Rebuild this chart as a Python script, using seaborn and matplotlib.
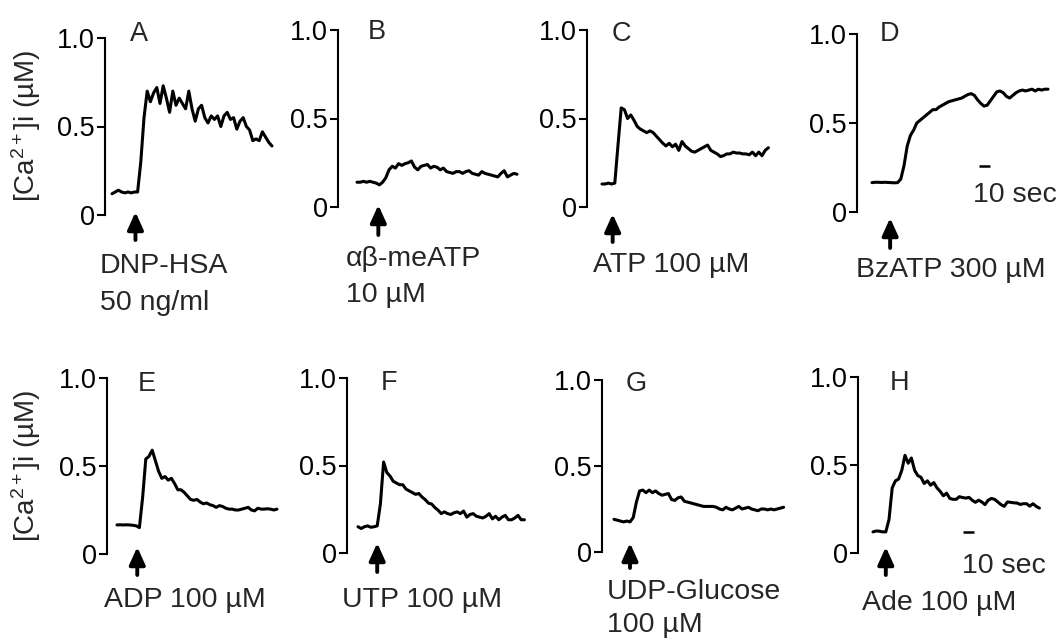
import matplotlib
matplotlib.use("Agg")
import matplotlib.pyplot as plt
import seaborn as sns
import numpy as np

# digitised [Ca2+]i traces (uM), one point every DT seconds
DT = 3.0
SCALE_BAR_S = 10

panels = ["A", "B", "C", "D", "E", "F", "G", "H"]
stimuli = [["DNP-HSA", "50 ng/ml"], ["αβ-meATP", "10 µM"], ["ATP 100 µM"], ["BzATP 300 µM"],
           ["ADP 100 µM"], ["UTP 100 µM"], ["UDP-Glucose", "100 µM"], ["Ade 100 µM"]]
stim_time = [22, 20, 10, 17, 19, 18, 15, 12]  # seconds after start of trace

ca_A = [0.12, 0.13, 0.14, 0.13, 0.125, 0.13, 0.125, 0.13, 0.13, 0.30,
        0.55, 0.70, 0.64, 0.69, 0.72, 0.63, 0.73, 0.66, 0.58, 0.70,
        0.62, 0.66, 0.63, 0.60, 0.70, 0.60, 0.53, 0.60, 0.62, 0.55,
        0.52, 0.56, 0.54, 0.56, 0.50, 0.56, 0.58, 0.54, 0.55, 0.485,
        0.53, 0.55, 0.50, 0.48, 0.42, 0.43, 0.42, 0.47, 0.44, 0.41, 0.39]
ca_B = [0.14, 0.14, 0.145, 0.14, 0.145, 0.14, 0.135, 0.125, 0.14, 0.165,
        0.21, 0.23, 0.22, 0.245, 0.235, 0.245, 0.25, 0.26, 0.225, 0.21,
        0.23, 0.235, 0.24, 0.22, 0.23, 0.225, 0.21, 0.22, 0.20, 0.195,
        0.19, 0.20, 0.20, 0.19, 0.20, 0.205, 0.19, 0.185, 0.18, 0.20,
        0.19, 0.185, 0.18, 0.175, 0.17, 0.19, 0.205, 0.17, 0.18, 0.19, 0.185]
ca_C = [0.13, 0.13, 0.135, 0.13, 0.135, 0.35, 0.56, 0.55, 0.50, 0.52,
        0.49, 0.455, 0.44, 0.43, 0.42, 0.43, 0.42, 0.40, 0.38, 0.36,
        0.345, 0.36, 0.34, 0.355, 0.32, 0.37, 0.345, 0.33, 0.315, 0.31,
        0.32, 0.33, 0.34, 0.35, 0.32, 0.31, 0.30, 0.285, 0.29, 0.30,
        0.30, 0.31, 0.305, 0.305, 0.30, 0.30, 0.295, 0.31, 0.29, 0.31,
        0.29, 0.32, 0.335]
ca_D = [0.165, 0.167, 0.167, 0.166, 0.167, 0.166, 0.165, 0.164, 0.165, 0.185,
        0.26, 0.37, 0.43, 0.46, 0.50, 0.515, 0.53, 0.545, 0.56, 0.575,
        0.575, 0.59, 0.60, 0.61, 0.62, 0.625, 0.63, 0.635, 0.64, 0.65,
        0.66, 0.665, 0.655, 0.63, 0.61, 0.595, 0.60, 0.625, 0.65, 0.675,
        0.68, 0.67, 0.65, 0.64, 0.655, 0.67, 0.68, 0.685, 0.68, 0.685,
        0.69, 0.68, 0.69, 0.685, 0.69, 0.69]
ca_E = [0.165, 0.166, 0.165, 0.166, 0.165, 0.163, 0.16, 0.15, 0.32, 0.54,
        0.555, 0.59, 0.53, 0.47, 0.43, 0.44, 0.42, 0.43, 0.40, 0.365,
        0.365, 0.35, 0.33, 0.31, 0.305, 0.31, 0.295, 0.285, 0.29, 0.28,
        0.275, 0.265, 0.275, 0.27, 0.26, 0.255, 0.255, 0.25, 0.25, 0.255,
        0.26, 0.265, 0.25, 0.245, 0.26, 0.255, 0.255, 0.257, 0.255, 0.25, 0.255]
ca_F = [0.15, 0.14, 0.15, 0.155, 0.147, 0.15, 0.155, 0.28, 0.52, 0.46,
        0.44, 0.41, 0.40, 0.39, 0.39, 0.365, 0.355, 0.345, 0.335, 0.34,
        0.32, 0.305, 0.285, 0.28, 0.26, 0.245, 0.225, 0.235, 0.225, 0.22,
        0.23, 0.235, 0.225, 0.24, 0.205, 0.22, 0.225, 0.21, 0.205, 0.20,
        0.21, 0.225, 0.195, 0.21, 0.19, 0.205, 0.215, 0.19, 0.19, 0.20,
        0.215, 0.19, 0.19]
ca_G = [0.19, 0.185, 0.18, 0.175, 0.18, 0.175, 0.20, 0.29, 0.355, 0.36,
        0.345, 0.36, 0.345, 0.355, 0.34, 0.33, 0.335, 0.34, 0.305, 0.30,
        0.315, 0.32, 0.295, 0.29, 0.285, 0.28, 0.275, 0.27, 0.265, 0.265,
        0.265, 0.265, 0.26, 0.25, 0.245, 0.26, 0.25, 0.245, 0.255, 0.265,
        0.25, 0.255, 0.26, 0.25, 0.245, 0.24, 0.25, 0.25, 0.245, 0.25,
        0.245, 0.25, 0.255, 0.26]
ca_H = [0.12, 0.125, 0.124, 0.12, 0.12, 0.19, 0.37, 0.41, 0.42, 0.47,
        0.555, 0.51, 0.54, 0.47, 0.44, 0.43, 0.395, 0.41, 0.385, 0.40,
        0.37, 0.35, 0.325, 0.34, 0.31, 0.305, 0.305, 0.32, 0.315, 0.312,
        0.316, 0.30, 0.288, 0.30, 0.29, 0.275, 0.30, 0.31, 0.305, 0.29,
        0.275, 0.265, 0.29, 0.288, 0.285, 0.284, 0.276, 0.28, 0.28, 0.266,
        0.28, 0.265, 0.255]
traces = [ca_A, ca_B, ca_C, ca_D, ca_E, ca_F, ca_G, ca_H]

# ---- layout (pixels in a 1061 x 639 canvas) ----
W, H = 1061, 639
PX_PER_S = 3.2 / DT
AX_W = 200
# spine x, y of 1.0, y of 0, first point x
axes_px = [(105, 38, 215, 112), (338, 30, 207, 357), (587, 30, 207, 602), (857, 34, 212, 872),
           (107, 378, 554, 117), (347, 378, 553, 358), (602, 380, 552, 614), (858, 377, 553, 873)]
arrow_px = [(212, 240), (205, 235), (214, 242), (218, 248),
            (547, 575), (543, 572), (543, 568), (547, 575)]
letter_px = [(139, 34), (377, 32), (621, 34), (889, 34), (147, 384), (389, 383), (636, 384), (900, 383)]
label_px = [(100, 273), (346, 266), (593, 272), (856, 277), (104, 607), (342, 607), (607, 599), (862, 610)]
line_gap = [37, 36, 0, 0, 0, 0, 33, 0]
scalebar_px = {3: (979, 166, 973, 202), 7: (963, 532, 962, 573)}


def fx(px):
    return px / W


def fy(py):
    return 1 - py / H


sns.set_style("ticks")
plt.rcParams["font.family"] = ["Liberation Sans", "DejaVu Sans"]
plt.rcParams["mathtext.fontset"] = "custom"
plt.rcParams["mathtext.rm"] = "Liberation Sans"
plt.rcParams["mathtext.it"] = "Liberation Sans:italic"

fig = plt.figure(figsize=(W / 100, H / 100), dpi=100)

for k, vals in enumerate(traces):
    sx, top, bot, tx0 = axes_px[k]
    ax = fig.add_axes([fx(sx), fy(bot), AX_W / W, (bot - top) / H])
    t0 = (tx0 - sx) / PX_PER_S
    t = t0 + DT * np.arange(len(vals))
    sns.lineplot(x=t, y=vals, ax=ax, color="black", linewidth=2.2, estimator=None, sort=False)
    ax.set_xlim(0, AX_W / PX_PER_S)
    ax.set_ylim(0, 1)
    ax.set_yticks([0, 0.5, 1.0])
    ax.set_yticklabels(["0", "0.5", "1.0"])
    ax.set_xticks([])
    ax.set_xlabel("")
    ax.set_ylabel("")
    ax.tick_params(axis="y", length=6, width=1.5, pad=1.5, labelsize=19.5, colors="black")
    sns.despine(ax=ax, bottom=True)
    ax.spines["left"].set_linewidth(1.5)
    ax.spines["left"].set_color("black")
    ax.patch.set_alpha(0)

    # stimulus arrow
    ts = t0 + stim_time[k]
    ya, yb = arrow_px[k]
    span = bot - top
    ax.annotate("", xy=(ts, (bot - ya) / span), xytext=(ts, (bot - yb) / span),
                arrowprops=dict(arrowstyle="-|>,head_length=0.75,head_width=0.34",
                                color="black", lw=2.8, mutation_scale=14,
                                shrinkA=0, shrinkB=0),
                annotation_clip=False)

    # panel letter
    lx, ly = letter_px[k]
    fig.text(fx(lx), fy(ly), panels[k], ha="center", va="center", fontsize=19.5)

    # stimulus label
    px, py = label_px[k]
    for j, line in enumerate(stimuli[k]):
        fig.text(fx(px), fy(py + j * line_gap[k]), line, ha="left", va="baseline", fontsize=20.5)

    # time scale bar
    if k in scalebar_px:
        bx, by, tx, ty = scalebar_px[k]
        xb = (bx - sx) / PX_PER_S
        ax.hlines((bot - by) / span, xb, xb + SCALE_BAR_S, color="black", lw=1.8, clip_on=False)
        fig.text(fx(tx), fy(ty), "10 sec", ha="left", va="baseline", fontsize=20.5)

for yc in (126, 466):
    fig.text(fx(26), fy(yc), r"[Ca$^{2+}$]i (µM)", rotation=90, ha="center", va="center", fontsize=20)

fig.savefig("out.png", dpi=100, facecolor="white")
